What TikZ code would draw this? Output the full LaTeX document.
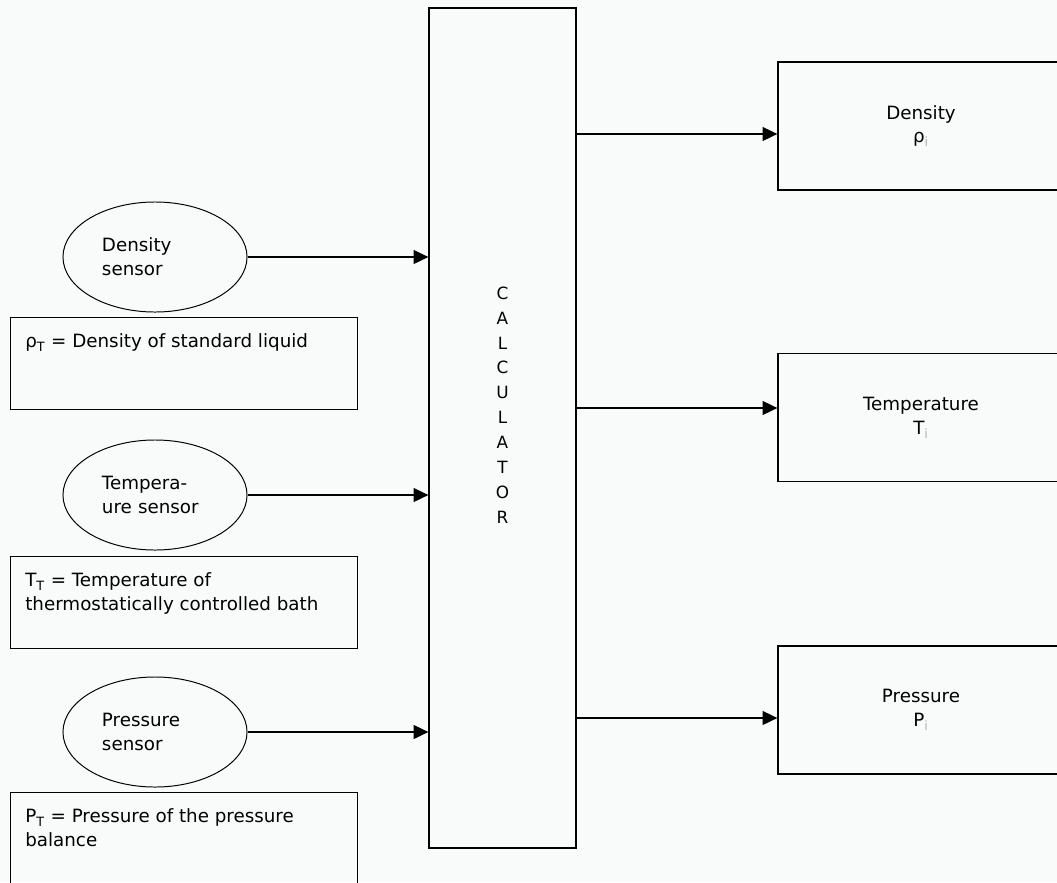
\documentclass[tikz,border=0pt]{standalone}
\usepackage{fontspec}
\setmainfont{DejaVu Sans}
\usetikzlibrary{arrows.meta}
\usetikzlibrary{shapes.geometric}
\usetikzlibrary{positioning}

\definecolor{paper}{RGB}{248,251,249}

\begin{document}
\begin{tikzpicture}[x=0.025cm, y=-0.025cm,
    every node/.style={font=\fontsize{13}{17}\selectfont},
    sensor/.style={draw, ellipse, line width=0.7pt, minimum width=4.6cm, minimum height=2.75cm, text width=2.65cm, align=left, inner sep=0pt},
    notebox/.style={draw, rectangle, line width=0.9pt, minimum width=8.675cm, minimum height=2.3cm, anchor=north west},
    notetext/.style={anchor=north west, align=left, inner sep=0pt, xshift=0.375cm, yshift=-0.42cm},
    outbox/.style={draw, rectangle, line width=0.9pt, minimum width=7.15cm, minimum height=3.2cm, align=center},
    flow/.style={-{Triangle[length=0.37cm, width=0.35cm]}, line width=0.9pt}]
        \clip (0,0) rectangle (1057,882);
        \fill [paper] (0,0) rectangle (1057,882);
        \node [draw, rectangle, line width=0.9pt, minimum width=3.675cm, minimum height=21cm,
               label={[align=center, font=\fontsize{12}{17.7}\selectfont, yshift=0.575cm]center:C\\A\\L\\C\\U\\L\\A\\T\\O\\R}] (calc) at (502.5,428) {};
        \node [sensor] (dsens) at (155,257) {Density\\sensor};
        \node [sensor] (tsens) at (155,495) {Tempera-\\ure sensor};
        \node [sensor] (psens) at (155,732) {Pressure\\sensor};
        \node [notebox, label={[notetext]north west:ρ\textsubscript{T} = Density of standard liquid}] (dnote) at (10,317) {};
        \node [notebox, label={[notetext]north west:T\textsubscript{T} = Temperature of\\thermostatically controlled bath}] (tnote) at (10,556) {};
        \node [notebox, label={[notetext]north west:P\textsubscript{T} = Pressure of the pressure\\balance}] (pnote) at (10,792) {};
        \node [outbox] (dout) at (921,126) {Density\\ρ\textsubscript{\color{gray!60}i}};
        \node [outbox] (tout) at (921,417.5) {Temperature\\T\textsubscript{\color{gray!60}i}};
        \node [outbox] (pout) at (921,710) {Pressure\\P\textsubscript{\color{gray!60}i}};
        \draw [flow] (dsens.east) -- (dsens.east -| calc.west);
        \draw [flow] (tsens.east) -- (tsens.east -| calc.west);
        \draw [flow] (psens.east) -- (psens.east -| calc.west);
        \draw [flow] (calc.east |- 0,134) -- (dout.west |- 0,134);
        \draw [flow] (calc.east |- 0,408) -- (tout.west |- 0,408);
        \draw [flow] (calc.east |- 0,718) -- (pout.west |- 0,718);
\end{tikzpicture}
\end{document}
